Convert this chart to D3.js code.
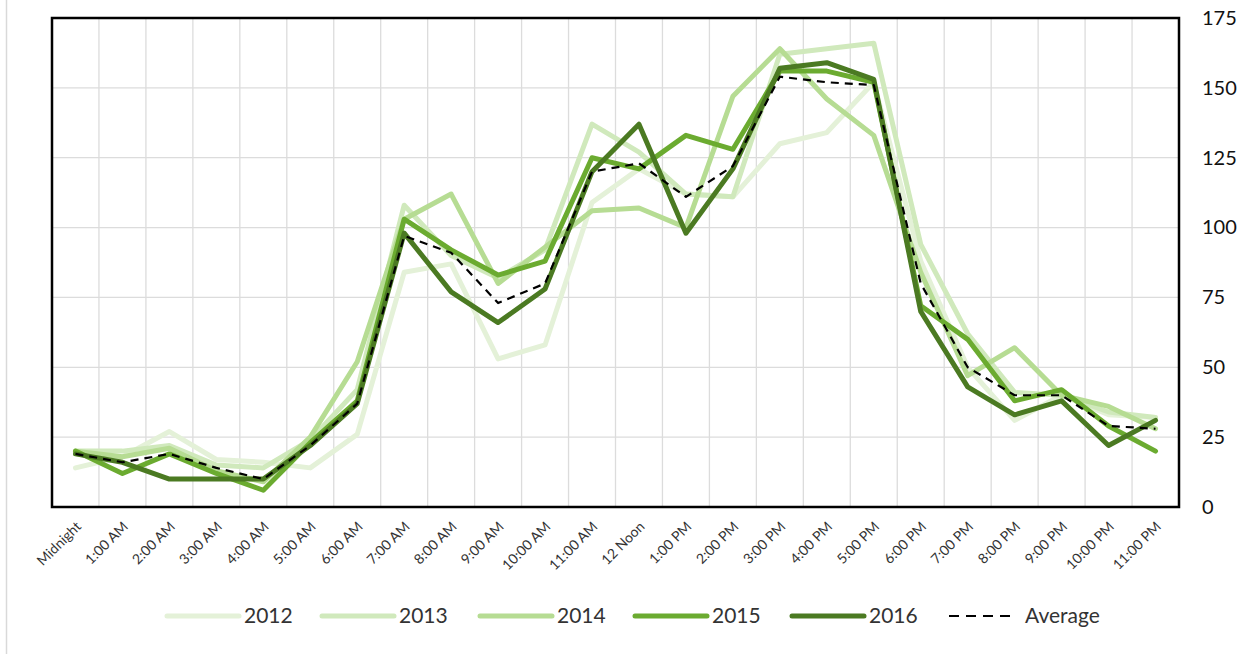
<!DOCTYPE html>
<html lang="en">
<head>
    <meta charset="UTF-8">
    <title>Hourly counts by year</title>
    <script src="https://cdn.jsdelivr.net/npm/d3@7"></script>
    <style>
        html, body { margin: 0; padding: 0; background: #fff; }
        svg { display: block; }
        text { font-family: Lato, "Open Sans", sans-serif; }
    </style>
</head>
<body>
    <svg width="1253" height="654" viewBox="0 0 1253 654" id="chart"></svg>
    <script>
        const hours = ["Midnight", "1:00 AM", "2:00 AM", "3:00 AM", "4:00 AM", "5:00 AM", "6:00 AM",
            "7:00 AM", "8:00 AM", "9:00 AM", "10:00 AM", "11:00 AM", "12 Noon", "1:00 PM", "2:00 PM",
            "3:00 PM", "4:00 PM", "5:00 PM", "6:00 PM", "7:00 PM", "8:00 PM", "9:00 PM", "10:00 PM", "11:00 PM"];

        const yTicks = [0, 25, 50, 75, 100, 125, 150, 175];

        const seriesNames = ["2012", "2013", "2014", "2015", "2016", "Average"];

        const y2012 = [14, 18, 27, 17, 16, 14, 26, 84, 87, 53, 58, 109, 121, 112, 111, 130, 134, 152, 88, 50, 31, 40, 33, 32];
        const y2013 = [20, 20, 22, 15, 14, 24, 42, 108, 90, 82, 92, 137, 127, 112, 111, 162, 164, 166, 94, 62, 41, 40, 34, 32];
        const y2014 = [20, 18, 21, 13, 9, 25, 52, 103, 112, 80, 93, 106, 107, 100, 147, 164, 146, 133, 84, 47, 57, 40, 36, 28];
        const y2015 = [20, 12, 19, 12, 6, 23, 38, 103, 92, 83, 88, 125, 121, 133, 128, 156, 156, 152, 72, 60, 38, 42, 29, 20];
        const y2016 = [19, 16, 10, 10, 10, 22, 37, 98, 77, 66, 78, 120, 137, 98, 121, 157, 159, 153, 70, 43, 33, 38, 22, 31];
        const yAvg  = [19, 16, 19, 14, 10, 22, 37, 97, 91, 73, 80, 120, 123, 111, 122, 154, 152, 151, 80, 50, 40, 40, 29, 28];

        const seriesValues = [y2012, y2013, y2014, y2015, y2016, yAvg];
        const colors = ["#e4f1d8", "#d0e9bc", "#b6dc93", "#6bab30", "#4b7a22", "#000"];

        const svg = d3.select("#chart"),
              margin = {top: 18, right: 74, bottom: 147, left: 52},
              width = +svg.attr("width"),
              height = +svg.attr("height"),
              innerWidth = width - margin.left - margin.right,
              innerHeight = height - margin.top - margin.bottom;

        // light outer frame line on the left
        svg.append("line")
            .attr("x1", 6.5).attr("x2", 6.5)
            .attr("y1", 0).attr("y2", height)
            .attr("stroke", "#d9d9d9").attr("stroke-width", 1.5);

        const g = svg.append("g")
            .attr("transform", `translate(${margin.left},${margin.top})`);

        const x = d3.scaleBand().domain(hours).range([0, innerWidth]).padding(0);
        const y = d3.scaleLinear().domain([0, 175]).range([innerHeight, 0]);
        const xc = d => x(d) + x.bandwidth() / 2;

        // grid
        g.append("g").selectAll("line")
            .data(yTicks.slice(1, -1))
            .join("line")
            .attr("x1", 0).attr("x2", innerWidth)
            .attr("y1", d => y(d)).attr("y2", d => y(d))
            .attr("stroke", "#dcdcdc").attr("stroke-width", 1.3);

        g.append("g").selectAll("line")
            .data(hours.slice(1))
            .join("line")
            .attr("x1", d => x(d)).attr("x2", d => x(d))
            .attr("y1", 0).attr("y2", innerHeight)
            .attr("stroke", "#dcdcdc").attr("stroke-width", 1.3);

        // lines
        const line = d3.line()
            .x((d, i) => xc(hours[i]))
            .y(d => y(d));

        seriesValues.forEach((vals, k) => {
            const isAvg = seriesNames[k] === "Average";
            g.append("path")
                .datum(vals)
                .attr("fill", "none")
                .attr("stroke", colors[k])
                .attr("stroke-width", isAvg ? 2.2 : 5)
                .attr("stroke-dasharray", isAvg ? "8,6" : null)
                .attr("stroke-linejoin", "round")
                .attr("stroke-linecap", isAvg ? "butt" : "round")
                .attr("d", line);
        });

        // plot frame
        g.append("rect")
            .attr("width", innerWidth).attr("height", innerHeight)
            .attr("fill", "none").attr("stroke", "#000").attr("stroke-width", 2.5);

        // axes
        const xAxis = g.append("g")
            .attr("transform", `translate(0,${innerHeight})`)
            .call(d3.axisBottom(x).tickSize(0).tickPadding(0))
            .attr("font-family", "Lato, sans-serif")
            .attr("font-size", 14);
        xAxis.select(".domain").remove();
        xAxis.selectAll("text")
            .attr("fill", "#333")
            .attr("y", 0)
            .attr("dy", "0.35em")
            .attr("text-anchor", "end")
            .attr("transform", "translate(3,17) rotate(-45)");

        const yAxis = g.append("g")
            .attr("transform", `translate(${innerWidth},0)`)
            .call(d3.axisRight(y).tickValues(yTicks).tickSize(0).tickPadding(23))
            .attr("font-family", "Lato, sans-serif")
            .attr("font-size", 20);
        yAxis.select(".domain").remove();
        yAxis.selectAll("text").attr("fill", "#111");

        // legend
        const legendX = [167, 322, 480, 635, 792, 949];
        const legend = svg.append("g")
            .attr("transform", "translate(0,616)")
            .attr("font-family", "Lato, sans-serif")
            .attr("font-size", 21);

        const items = legend.selectAll("g")
            .data(seriesNames)
            .join("g")
            .attr("transform", (d, i) => `translate(${legendX[i]},0)`);

        items.append("line")
            .attr("x1", 0)
            .attr("x2", (d, i) => seriesNames[i] === "Average" ? 62 : 72)
            .attr("stroke", (d, i) => colors[i])
            .attr("stroke-width", (d, i) => seriesNames[i] === "Average" ? 2.2 : 5)
            .attr("stroke-dasharray", (d, i) => seriesNames[i] === "Average" ? "10,7" : null)
            .attr("stroke-linecap", (d, i) => seriesNames[i] === "Average" ? "butt" : "round");

        items.append("text")
            .attr("x", (d, i) => seriesNames[i] === "Average" ? 76 : 77)
            .attr("dy", "0.35em")
            .attr("fill", "#333")
            .text(d => d);
    </script>
</body>
</html>
